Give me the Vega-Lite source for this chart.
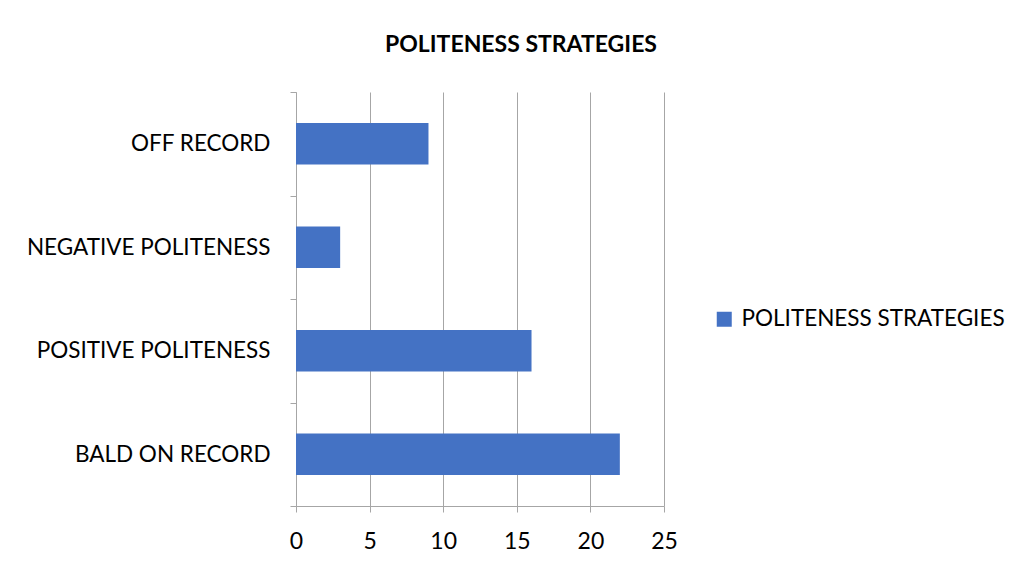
{
  "$schema": "https://vega.github.io/schema/vega-lite/v6.json",
  "autosize": "none",
  "width": 368,
  "height": 414,
  "padding": {"left": 296, "top": 92, "right": 358, "bottom": 64},
  "background": "white",
  "config": {
    "font": "Lato",
    "view": {"stroke": null},
    "axis": {"labelFont": "Lato", "labelColor": "#000000"}
  },
  "title": {
    "text": "POLITENESS STRATEGIES",
    "font": "Lato",
    "fontSize": 23,
    "fontWeight": "bold",
    "color": "#000000",
    "anchor": "middle",
    "frame": "group",
    "dx": 41,
    "offset": 24
  },
  "data": {
    "values": [
      {"strategy": "OFF RECORD", "count": 9, "series": "POLITENESS STRATEGIES"},
      {"strategy": "NEGATIVE POLITENESS", "count": 3, "series": "POLITENESS STRATEGIES"},
      {"strategy": "POSITIVE POLITENESS", "count": 16, "series": "POLITENESS STRATEGIES"},
      {"strategy": "BALD ON RECORD", "count": 22, "series": "POLITENESS STRATEGIES"}
    ]
  },
  "mark": {"type": "bar", "height": {"band": 0.4}},
  "encoding": {
    "y": {
      "field": "strategy",
      "type": "nominal",
      "sort": ["OFF RECORD", "NEGATIVE POLITENESS", "POSITIVE POLITENESS", "BALD ON RECORD"],
      "scale": {"paddingInner": 0, "paddingOuter": 0},
      "axis": {
        "title": null,
        "tickBand": "extent",
        "tickSize": 6,
        "tickColor": "#A6A6A6",
        "domainColor": "#A6A6A6",
        "labelFontSize": 22.5,
        "labelPadding": 20,
        "labelLimit": 400,
        "grid": false
      }
    },
    "x": {
      "field": "count",
      "type": "quantitative",
      "scale": {"domain": [0, 25], "nice": false},
      "axis": {
        "title": null,
        "values": [0, 5, 10, 15, 20, 25],
        "grid": true,
        "gridColor": "#A6A6A6",
        "tickColor": "#A6A6A6",
        "domainColor": "#A6A6A6",
        "tickSize": 6,
        "labelFlush": false,
        "labelFontSize": 23,
        "labelPadding": 18
      }
    },
    "color": {
      "field": "series",
      "type": "nominal",
      "scale": {"range": ["#4472C4"]},
      "legend": {
        "title": null,
        "orient": "none",
        "legendX": 417,
        "legendY": 216,
        "symbolType": "square",
        "symbolSize": 225,
        "symbolStrokeWidth": 0,
        "labelFont": "Lato",
        "labelFontSize": 22.5,
        "labelColor": "#000000",
        "labelOffset": 6,
        "labelLimit": 400
      }
    }
  }
}
